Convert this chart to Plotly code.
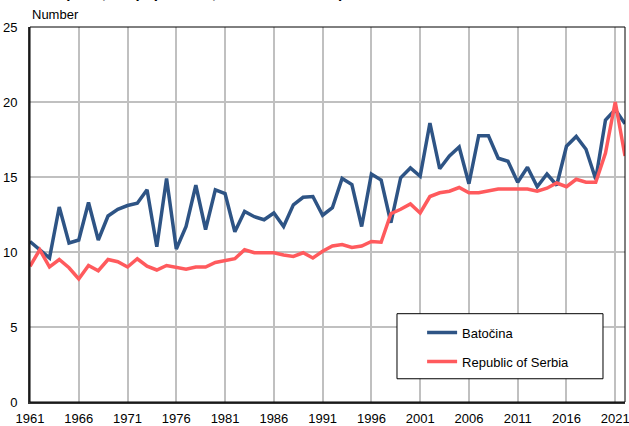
import plotly.graph_objects as go

years = list(range(1961, 2023))

batocina = [10.7, 10.15, 9.6, 13.0, 10.6, 10.8, 13.3, 10.8, 12.4, 12.85,
            13.1, 13.25, 14.15, 10.35, 14.9, 10.2, 11.7, 14.45, 11.5, 14.15,
            13.9, 11.35, 12.7, 12.35, 12.15, 12.6, 11.7, 13.15, 13.65, 13.7,
            12.45, 12.95, 14.9, 14.5, 11.7, 15.2, 14.8, 11.95, 14.95, 15.6,
            15.05, 18.6, 15.55, 16.4, 17.0, 14.55, 17.75, 17.75, 16.25, 16.05,
            14.65, 15.65, 14.35, 15.2, 14.45, 17.05, 17.7, 16.85, 14.85, 18.8,
            19.5, 18.55]

serbia = [9.05, 10.15, 9.0, 9.5, 8.95, 8.2, 9.1, 8.75, 9.5, 9.35,
          9.0, 9.55, 9.05, 8.8, 9.1, 8.95, 8.85, 9.0, 9.0, 9.3,
          9.45, 9.55, 10.15, 9.95, 9.95, 9.95, 9.8, 9.7, 9.95, 9.6,
          10.05, 10.4, 10.5, 10.3, 10.4, 10.7, 10.65, 12.55, 12.85, 13.2,
          12.6, 13.7, 13.95, 14.05, 14.3, 13.95, 13.95, 14.05, 14.2, 14.2,
          14.2, 14.2, 14.05, 14.25, 14.6, 14.35, 14.85, 14.65, 14.65, 16.6,
          20.0, 16.4]

series_names = ["Batočina", "Republic of Serbia"]
tick_years = list(range(1961, 2022, 5))
tick_labels = [str(y) for y in tick_years]
y_ticks = [0, 5, 10, 15, 20, 25]

FONT = "Liberation Sans, Arial, sans-serif"

fig = go.Figure()
fig.add_trace(go.Scatter(x=years, y=batocina, mode="lines", name=series_names[0],
                         legendgroup="a",
                         line=dict(color="#2E5485", width=3.5)))
fig.add_trace(go.Scatter(x=years, y=serbia, mode="lines", name=series_names[1],
                         legendgroup="b",
                         line=dict(color="#FF5A5D", width=3.5)))

fig.update_layout(
    width=629, height=426,
    margin=dict(l=30, r=4, t=27, b=24, autoexpand=False),
    paper_bgcolor="white", plot_bgcolor="white",
    font=dict(family=FONT, size=13, color="black"),
    showlegend=True,
    legend=dict(x=0.659, y=0.225, xanchor="left", yanchor="top",
                bgcolor="rgba(0,0,0,0)", borderwidth=0,
                font=dict(size=13), tracegroupgap=9, itemwidth=30),
    xaxis=dict(range=[1961, 2022], tickmode="array", tickvals=tick_years,
               ticktext=tick_labels, showgrid=True, gridcolor="#C0C0C0",
               gridwidth=1.5, showline=True, linecolor="#333333", linewidth=2,
               mirror=False, zeroline=False, ticks="", automargin=False,
               ticklabeloverflow="allow", ticklabelstandoff=3,
               tickfont=dict(size=13)),
    yaxis=dict(range=[0, 25], tickmode="array", tickvals=y_ticks,
               showgrid=True, gridcolor="#C0C0C0", gridwidth=1.5,
               showline=True, linecolor="#333333", linewidth=2,
               zeroline=False, ticks="", automargin=False,
               ticklabelstandoff=8, ticklabeloverflow="allow",
               tickfont=dict(size=13)),
    shapes=[
        dict(type="rect", xref="paper", yref="paper", x0=0, x1=1, y0=0, y1=1,
             line=dict(color="black", width=1), fillcolor="rgba(0,0,0,0)",
             layer="above"),
        dict(type="rect", xref="paper", yref="paper", x0=0.6168, x1=0.963,
             y0=0.062, y1=0.2355, line=dict(color="black", width=1),
             fillcolor="white", layer="above"),
    ],
    annotations=[
        dict(text="Number", xref="paper", yref="paper", x=0, y=1.009,
             xanchor="left", yanchor="bottom", showarrow=False,
             font=dict(size=13, color="black")),
        dict(text="<b>Deaths per 1,000 population, Batočina and Republic of Serbia</b>",
             xref="paper", yref="paper", x=-0.034, y=1.065,
             xanchor="left", yanchor="bottom", showarrow=False,
             font=dict(size=15, color="black")),
    ],
)

fig.write_html("out.html", config={"displayModeBar": False},
               post_script="document.body.style.margin='0';")
